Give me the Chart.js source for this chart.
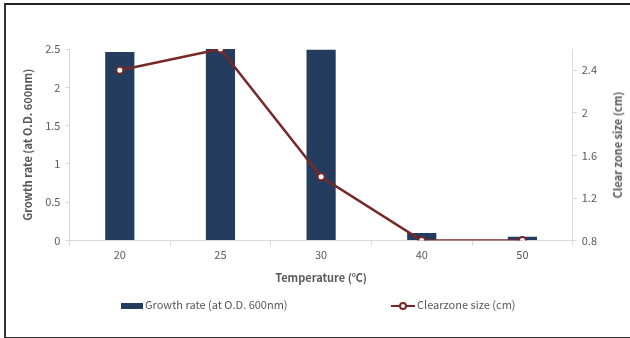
<!DOCTYPE html>
<html>
<head>
<meta charset="utf-8">
<script src="https://cdn.jsdelivr.net/npm/chart.js@4/dist/chart.umd.min.js"></script>
<style>
  html, body { margin: 0; padding: 0; background: #fff; }
  #frame {
    position: absolute; left: 4px; top: 3px; width: 640px; height: 332px;
    border-left: 2px solid #333; border-top: 2px solid #222; border-bottom: 2px solid #333;
    background: #fff;
  }
  #wrap { position: absolute; left: 0; top: 0; width: 630px; height: 338px; }
  .legend {
    position: absolute; top: 296px; font-family: "Noto Sans CJK KR", "Open Sans", sans-serif;
    font-size: 11px; color: #595959; white-space: nowrap;
  }
  .legend .box { display: inline-block; width: 22px; height: 6px; background: #243d5f; vertical-align: middle; margin-right: 2px; }
  .legend .ln { display: inline-block; position: relative; width: 24px; height: 10px; vertical-align: middle; margin-right: 2px; }
  .legend .ln::before { content: ""; position: absolute; left: 0; right: 0; top: 4px; height: 2px; background: #762a28; }
  .legend .ln::after { content: ""; position: absolute; left: 8px; top: 1px; width: 4px; height: 4px; border: 2px solid #762a28; border-radius: 50%; background: #fff; }
  #rtitle {
    position: absolute; left: 617px; top: 145px; transform: translate(-50%, -50%) rotate(-90deg);
    font-family: "Noto Sans CJK KR", "Open Sans", sans-serif; font-size: 11px; font-weight: bold;
    color: #595959; white-space: nowrap;
  }
</style>
</head>
<body>
<div id="frame"></div>
<div id="wrap"><canvas id="chart" width="630" height="338"></canvas></div>
<div id="rtitle">Clear zone size (cm)</div>
<div class="legend" style="left:121px"><span class="box"></span>Growth rate (at O.D. 600nm)</div>
<div class="legend" style="left:391px"><span class="ln"></span>Clearzone size (cm)</div>
<script>
  const temperatures = ['20', '25', '30', '40', '50'];
  const growthRate = [2.46, 2.5, 2.49, 0.1, 0.05];
  const clearZone = [2.4, 2.6, 1.4, 0.8, 0.8];
  const leftTicks = [0, 0.5, 1, 1.5, 2, 2.5];
  const rightTicks = [0.8, 1.2, 1.6, 2, 2.4];

  const font = "'Noto Sans CJK KR', 'Open Sans', sans-serif";
  const textColor = '#595959';
  const axisColor = '#d9d9d9';

  new Chart(document.getElementById('chart'), {
    data: {
      labels: temperatures,
      datasets: [
        {
          type: 'line',
          label: 'Clearzone size (cm)',
          data: clearZone,
          yAxisID: 'y1',
          borderColor: '#762a28',
          borderWidth: 2.5,
          pointBackgroundColor: '#fff',
          pointBorderColor: '#762a28',
          pointBorderWidth: 2,
          pointRadius: 3.5,
          tension: 0,
          order: 0
        },
        {
          type: 'bar',
          label: 'Growth rate (at O.D. 600nm)',
          data: growthRate,
          yAxisID: 'y',
          backgroundColor: '#243d5f',
          barPercentage: 0.29,
          categoryPercentage: 1,
          order: 1
        }
      ]
    },
    options: {
      responsive: false,
      animation: false,
      layout: { padding: { left: 17, right: 28, top: 49, bottom: 50 } },
      plugins: { legend: { display: false }, tooltip: { enabled: false } },
      scales: {
        x: {
          offset: true,
          grid: { offset: true, drawOnChartArea: false, color: axisColor, tickLength: 5 },
          border: { color: axisColor },
          ticks: { color: textColor, font: { family: font, size: 11 }, padding: 3 },
          title: { display: true, text: 'Temperature (℃)', color: textColor, font: { family: font, size: 11, weight: 'bold' }, padding: { top: 6 } }
        },
        y: {
          position: 'left',
          min: 0, max: 2.5,
          afterBuildTicks: axis => { axis.ticks = leftTicks.map(v => ({ value: v })); },
          grid: { drawOnChartArea: false, color: axisColor, tickLength: 4 },
          border: { color: axisColor },
          ticks: { color: textColor, font: { family: font, size: 11 }, padding: 5, callback: v => String(v) },
          title: { display: true, text: 'Growth rate (at O.D. 600nm)', color: textColor, font: { family: font, size: 11, weight: 'bold' }, padding: { bottom: 6 } }
        },
        y1: {
          position: 'right',
          min: 0.8, max: 2.6,
          afterBuildTicks: axis => { axis.ticks = rightTicks.map(v => ({ value: v })); },
          grid: { drawOnChartArea: false, color: axisColor, tickLength: 4 },
          border: { color: axisColor },
          ticks: { color: textColor, font: { family: font, size: 11 }, padding: 5, callback: v => String(v) }
        }
      }
    }
  });
</script>
</body>
</html>
